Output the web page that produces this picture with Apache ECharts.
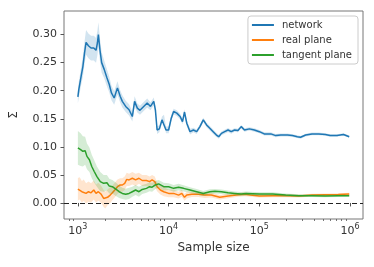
<!DOCTYPE html>
<html>
<head>
<meta charset="utf-8">
<script src="https://cdn.jsdelivr.net/npm/echarts@6/dist/echarts.min.js"></script>
<style>html,body{margin:0;padding:0;background:#fff}#c{width:374px;height:267px}</style>
</head>
<body>
<div id="c"></div>
<script>
// sample sizes stored as log10 exponents
const netLogN = [3.0,3.01,3.036,3.055,3.073,3.09,3.116,3.145,3.175,3.2,3.215,3.226,3.243,3.262,3.29,3.32,3.346,3.37,3.40,3.436,3.466,3.49,3.527,3.564,3.6,3.625,3.655,3.684,3.72,3.764,3.80,3.836,3.854,3.873,3.898,3.927,3.949,3.971,4.0,4.029,4.055,4.09,4.127,4.153,4.175,4.2,4.236,4.273,4.309,4.345,4.382,4.418,4.454,4.491,4.527,4.552,4.582,4.618,4.655,4.69,4.727,4.764,4.8,4.836,4.89,4.945,5.0,5.054,5.127,5.18,5.236,5.31,5.364,5.418,5.454,5.51,5.58,5.655,5.727,5.78,5.855,5.927,5.99];
const netVal = [0.189,0.202,0.226,0.243,0.267,0.286,0.280,0.276,0.276,0.272,0.285,0.300,0.273,0.250,0.238,0.223,0.211,0.196,0.187,0.205,0.190,0.181,0.172,0.166,0.154,0.181,0.169,0.165,0.171,0.178,0.172,0.181,0.166,0.130,0.132,0.148,0.151,0.130,0.130,0.151,0.163,0.160,0.154,0.145,0.162,0.142,0.127,0.130,0.127,0.136,0.148,0.139,0.133,0.127,0.121,0.118,0.124,0.127,0.130,0.127,0.130,0.129,0.136,0.130,0.132,0.130,0.127,0.123,0.123,0.120,0.121,0.121,0.120,0.118,0.117,0.121,0.123,0.123,0.122,0.120,0.120,0.122,0.118];
const netHalf = [0.012,0.014,0.016,0.018,0.020,0.022,0.022,0.022,0.022,0.022,0.022,0.022,0.020,0.018,0.016,0.015,0.014,0.013,0.012,0.012,0.011,0.011,0.010,0.010,0.009,0.009,0.008,0.008,0.008,0.008,0.007,0.007,0.007,0.007,0.006,0.006,0.006,0.006,0.006,0.006,0.005,0.005,0.005,0.005,0.005,0.005,0.005,0.004,0.004,0.004,0.004,0.004,0.004,0.004,0.0035,0.0035,0.0035,0.0035,0.0035,0.0035,0.003,0.003,0.003,0.003,0.003,0.003,0.003,0.003,0.003,0.0028,0.0028,0.0026,0.0026,0.0025,0.0025,0.0024,0.0024,0.0023,0.0023,0.0022,0.0022,0.002,0.002];

const realLogN = [3.0,3.02,3.044,3.065,3.09,3.117,3.145,3.175,3.2,3.226,3.254,3.284,3.302,3.327,3.356,3.38,3.407,3.436,3.466,3.49,3.516,3.538,3.564,3.6,3.636,3.673,3.709,3.756,3.79,3.818,3.847,3.873,3.909,3.946,4.0,4.055,4.11,4.145,4.175,4.2,4.255,4.327,4.4,4.47,4.564,4.655,4.745,4.836,4.9,5.0,5.146,5.29,5.436,5.58,5.727,5.87,5.99];
const realVal = [0.0245,0.026,0.020,0.023,0.017,0.020,0.018,0.023,0.017,0.020,0.016,0.008,0.005,0.010,0.014,0.018,0.023,0.029,0.032,0.032,0.035,0.042,0.041,0.044,0.041,0.044,0.040,0.040,0.038,0.041,0.038,0.029,0.023,0.020,0.017,0.017,0.014,0.017,0.010,0.014,0.0155,0.0155,0.014,0.014,0.010,0.0125,0.014,0.0155,0.014,0.0125,0.013,0.013,0.0125,0.014,0.0146,0.015,0.016];
const realHalf = [0.020,0.020,0.019,0.019,0.018,0.018,0.017,0.017,0.016,0.016,0.015,0.015,0.015,0.014,0.014,0.013,0.013,0.013,0.012,0.012,0.012,0.012,0.011,0.011,0.011,0.010,0.010,0.010,0.009,0.009,0.009,0.008,0.008,0.008,0.007,0.007,0.006,0.006,0.006,0.006,0.005,0.005,0.005,0.0045,0.004,0.004,0.0035,0.0035,0.003,0.003,0.003,0.0028,0.0026,0.0025,0.0024,0.0022,0.002];

const tanLogN = [3.0,3.03,3.055,3.08,3.10,3.127,3.153,3.18,3.21,3.247,3.284,3.32,3.346,3.38,3.418,3.455,3.49,3.527,3.564,3.6,3.636,3.673,3.709,3.756,3.79,3.818,3.854,3.89,3.946,4.0,4.055,4.11,4.164,4.236,4.309,4.382,4.454,4.51,4.582,4.655,4.727,4.8,4.855,5.0,5.146,5.29,5.436,5.58,5.727,5.87,5.99];
const tanVal = [0.098,0.095,0.092,0.093,0.083,0.077,0.065,0.056,0.047,0.038,0.035,0.036,0.030,0.029,0.0245,0.020,0.017,0.0155,0.017,0.020,0.023,0.020,0.024,0.026,0.029,0.028,0.032,0.034,0.029,0.029,0.026,0.028,0.026,0.023,0.020,0.017,0.020,0.021,0.020,0.018,0.017,0.016,0.017,0.016,0.016,0.014,0.013,0.013,0.0125,0.013,0.013];
const tanHalf = [0.030,0.029,0.027,0.025,0.023,0.022,0.021,0.020,0.018,0.017,0.015,0.014,0.013,0.012,0.012,0.011,0.010,0.010,0.010,0.009,0.009,0.009,0.008,0.008,0.008,0.008,0.007,0.007,0.007,0.006,0.006,0.006,0.0055,0.005,0.005,0.0045,0.0045,0.004,0.004,0.004,0.0035,0.0035,0.0035,0.003,0.003,0.0028,0.0026,0.0025,0.0024,0.0022,0.002];

const xTickValues = [1e3, 1e4, 1e5, 1e6];
const xMinorTicks = [800,900,2e3,3e3,4e3,5e3,6e3,7e3,8e3,9e3,2e4,3e4,4e4,5e4,6e4,7e4,8e4,9e4,2e5,3e5,4e5,5e5,6e5,7e5,8e5,9e5];
const yTickValues = [0.00, 0.05, 0.10, 0.15, 0.20, 0.25, 0.30];

const names = ['network', 'real plane', 'tangent plane'];
const colors = ['#1f77b4', '#ff7f0e', '#2ca02c'];
const sets = [[netLogN, netVal, netHalf], [realLogN, realVal, realHalf], [tanLogN, tanVal, tanHalf]];

const X_MIN = Math.pow(10, 2.847), X_MAX = Math.pow(10, 6.142);

function toPairs(ln, v) { return ln.map((e, i) => [Math.pow(10, e), v[i]]); }

const series = [];
sets.forEach((s, k) => {
  const [ln, v, h] = s;
  const upper = ln.map((e, i) => [Math.pow(10, e), v[i] + h[i]]);
  const lower = ln.map((e, i) => [Math.pow(10, e), v[i] - h[i]]);
  series.push({
    type: 'custom',
    name: names[k] + ' band',
    xAxisIndex: 0, yAxisIndex: 0,
    silent: true,
    z: 1 + k * 2,
    data: [[Math.pow(10, ln[0]), v[0]]],
    renderItem: function (params, api) {
      const pts = [];
      upper.forEach(p => pts.push(api.coord(p)));
      for (let i = lower.length - 1; i >= 0; i--) pts.push(api.coord(lower[i]));
      return {
        type: 'polygon',
        shape: { points: pts },
        style: { fill: colors[k], opacity: 0.2, stroke: 'none' }
      };
    }
  });
  series.push({
    type: 'line',
    name: names[k],
    xAxisIndex: 0, yAxisIndex: 0,
    data: toPairs(ln, v),
    showSymbol: false,
    symbol: 'none',
    z: 2 + k * 2,
    lineStyle: { color: colors[k], width: 1.5 },
    itemStyle: { color: colors[k] },
    animation: false
  });
});
// zero reference line
series.push({
  type: 'line', name: 'zero', data: [], xAxisIndex: 0, yAxisIndex: 0,
  markLine: {
    silent: true, symbol: 'none', label: { show: false },
    lineStyle: { color: '#222', width: 1.2, type: [5, 3] },
    data: [{ yAxis: 0 }], animation: false
  }
});

const chart = echarts.init(document.getElementById('c'), null, { renderer: 'canvas' });
chart.setOption({
  animation: false,
  backgroundColor: '#fff',
  textStyle: { fontFamily: 'DejaVu Sans' },
  grid: { left: 61, right: 11, top: 11, bottom: 48, show: true, borderColor: '#777', borderWidth: 1, backgroundColor: 'transparent' },
  legend: {
    data: names,
    orient: 'vertical',
    right: 16, top: 16,
    backgroundColor: '#fff',
    borderColor: '#ccc', borderWidth: 1, borderRadius: 3,
    padding: [3, 6, 3, 4],
    itemWidth: 22, itemHeight: 2, itemGap: 3,
    icon: 'rect',
    textStyle: { fontSize: 10, color: '#333', fontFamily: 'DejaVu Sans', lineHeight: 12, padding: [0, 0, 0, 3] }
  },
  xAxis: [{
    type: 'log', logBase: 10, min: X_MIN, max: X_MAX,
    name: 'Sample size', nameLocation: 'middle', nameGap: 21,
    nameTextStyle: { fontSize: 12, color: '#333', fontFamily: 'DejaVu Sans' },
    axisLine: { show: false },
    splitLine: { show: false },
    axisTick: { show: true, inside: false, length: 3.5, lineStyle: { color: '#555', width: 1 }, customValues: xTickValues },
    axisLabel: {
      show: true, margin: 4, customValues: xTickValues, color: '#333',
      formatter: function (v) { return '{b|10}{s|' + Math.round(Math.log10(v)) + '}'; },
      rich: {
        b: { fontSize: 11, color: '#333', fontFamily: 'DejaVu Sans' },
        s: { fontSize: 8, color: '#333', fontFamily: 'DejaVu Sans', padding: [0, 0, 8, 0] }
      }
    }
  }, {
    type: 'log', logBase: 10, min: X_MIN, max: X_MAX, position: 'bottom',
    axisLine: { show: false }, splitLine: { show: false },
    axisLabel: { show: false },
    axisTick: { show: true, inside: false, length: 2, lineStyle: { color: '#555', width: 0.8 }, customValues: xMinorTicks }
  }],
  yAxis: [{
    type: 'value', min: -0.0286, max: 0.342,
    name: 'Σ', nameLocation: 'middle', nameGap: 44,
    nameTextStyle: { fontSize: 12, color: '#333', fontFamily: 'DejaVu Sans' },
    axisLine: { show: false },
    splitLine: { show: false },
    axisTick: { show: true, inside: false, length: 3.5, lineStyle: { color: '#555' }, customValues: yTickValues },
    axisLabel: { show: true, margin: 7, fontSize: 11, color: '#333', customValues: yTickValues, formatter: v => v.toFixed(2) }
  }],
  series: series
});
</script>
</body>
</html>
